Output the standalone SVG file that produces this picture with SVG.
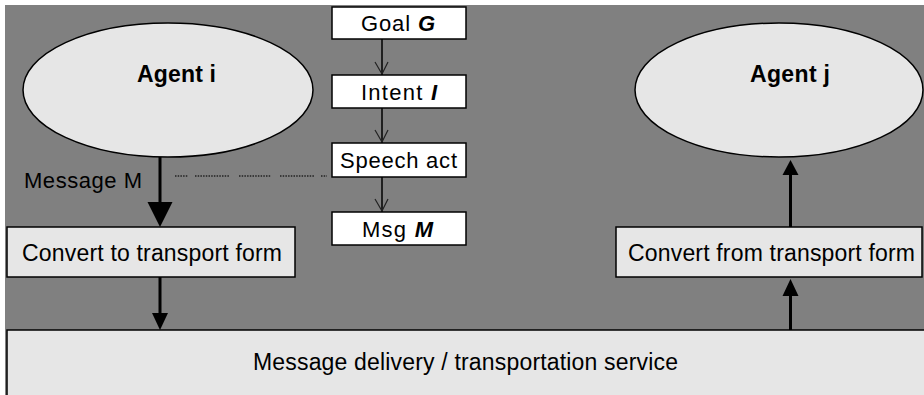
<svg xmlns="http://www.w3.org/2000/svg" width="924" height="395" viewBox="0 0 924 395">
  <style>
    text { font-family: "Liberation Sans", Arial, sans-serif; fill: #000; }
    .lbl { font-size: 23px; }
    .step-lbl { font-size: 22px; }
    .agent { font-size: 23px; font-weight: bold; }
    .bi { font-weight: bold; font-style: italic; }
    .ell { fill: #e6e6e6; stroke: #000; stroke-width: 1.5; }
    .pane { fill: #e6e6e6; stroke: #000; stroke-width: 1.5; }
    .step { fill: #fff; stroke: #000; stroke-width: 1.5; }
    .thick { stroke: #000; stroke-width: 3; fill: none; }
    .thin { stroke: #000; stroke-width: 1.5; fill: none; }
    .vhead { stroke: #222; stroke-width: 1.2; fill: none; }
    .dots { stroke: #222; stroke-width: 1.5; stroke-dasharray: 1.5 1.2; fill: none; }
    .head { fill: #000; }
  </style>

  <!-- canvas -->
  <rect x="0" y="0" width="924" height="395" fill="#fff"/>
  <rect x="5" y="5" width="919" height="390" fill="#808080"/>

  <!-- connectors -->
  <g id="connectors">
    <!-- Agent i down to conversion -->
    <line class="thick" x1="160" y1="157" x2="160" y2="204"/>
    <polygon class="head" points="147.5,202 172.5,202 160,227"/>
    <!-- conversion down to delivery -->
    <line class="thick" x1="160" y1="277" x2="160" y2="315"/>
    <polygon class="head" points="152,313 168,313 160,330"/>
    <!-- delivery up to reverse conversion -->
    <line class="thick" x1="790.5" y1="330" x2="790.5" y2="294"/>
    <polygon class="head" points="782.5,296 798.5,296 790.5,279"/>
    <!-- reverse conversion up to Agent j -->
    <line class="thick" x1="790.5" y1="227" x2="790.5" y2="173"/>
    <polygon class="head" points="782.5,175 798.5,175 790.5,160"/>

    <!-- refinement chain -->
    <line class="thin" x1="382" y1="39" x2="382" y2="75"/>
    <polyline class="vhead" points="375,62 382,74 388,62"/>
    <line class="thin" x1="382" y1="108" x2="382" y2="143"/>
    <polyline class="vhead" points="375,130 382,142 388,130"/>
    <line class="thin" x1="382" y1="177" x2="382" y2="212"/>
    <polyline class="vhead" points="375,199 382,211 388,199"/>

    <!-- dotted link from message to speech act -->
    <line class="dots" x1="175" y1="176" x2="188" y2="176"/>
    <line class="dots" x1="195" y1="176" x2="229" y2="176"/>
    <line class="dots" x1="239" y1="176" x2="271" y2="176"/>
    <line class="dots" x1="280" y1="176" x2="315" y2="176"/>
    <line class="dots" x1="321" y1="176" x2="327" y2="176"/>
  </g>

  <g id="agent-i">
    <ellipse class="ell" cx="168" cy="90" rx="145" ry="67"/>
    <text class="agent" x="137" y="82" textLength="79" lengthAdjust="spacing">Agent i</text>
  </g>

  <g id="agent-j">
    <ellipse class="ell" cx="779" cy="90" rx="144" ry="67"/>
    <text class="agent" x="750" y="82" textLength="80" lengthAdjust="spacing">Agent j</text>
  </g>

  <g id="message-label">
    <text class="step-lbl" x="24" y="188" textLength="118" lengthAdjust="spacing">Message M</text>
  </g>

  <g id="goal">
    <rect class="step" x="332" y="7" width="134" height="32"/>
    <text class="step-lbl" x="361" y="31" textLength="74" lengthAdjust="spacing">Goal <tspan class="bi">G</tspan></text>
  </g>
  <g id="intent">
    <rect class="step" x="332" y="75" width="134" height="33"/>
    <text class="step-lbl" x="361" y="100" textLength="76" lengthAdjust="spacing">Intent <tspan class="bi">I</tspan></text>
  </g>
  <g id="speech-act">
    <rect class="step" x="332" y="143" width="134" height="34"/>
    <text class="step-lbl" x="340" y="168" textLength="117" lengthAdjust="spacing">Speech act</text>
  </g>
  <g id="msg">
    <rect class="step" x="332" y="212" width="134" height="33"/>
    <text class="step-lbl" x="362" y="237" textLength="71" lengthAdjust="spacing">Msg <tspan class="bi">M</tspan></text>
  </g>

  <g id="to-transport">
    <rect class="pane" x="7" y="227" width="288" height="50"/>
    <text class="lbl" x="22" y="261" textLength="260" lengthAdjust="spacing">Convert to transport form</text>
  </g>

  <g id="from-transport">
    <rect class="pane" x="616" y="227" width="306" height="50"/>
    <text class="lbl" x="628" y="261" textLength="287" lengthAdjust="spacing">Convert from transport form</text>
  </g>

  <g id="delivery">
    <rect class="pane" x="7" y="330" width="930" height="80"/>
    <text class="lbl" x="253" y="370" textLength="425" lengthAdjust="spacing">Message delivery / transportation service</text>
  </g>
</svg>
